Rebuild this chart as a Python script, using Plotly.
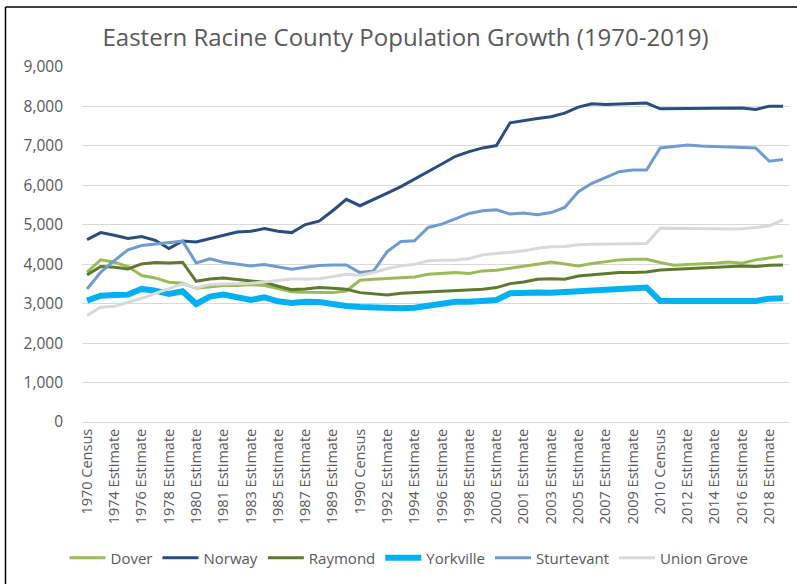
import plotly.graph_objects as go

categories = ["1970 Census", "1973 Estimate", "1974 Estimate", "1975 Estimate", "1976 Estimate",
              "1977 Estimate", "1978 Estimate", "1979 Estimate", "1980 Estimate", "1980 Census",
              "1981 Estimate", "1982 Estimate", "1983 Estimate", "1984 Estimate", "1985 Estimate",
              "1986 Estimate", "1987 Estimate", "1988 Estimate", "1989 Estimate", "1990 Estimate",
              "1990 Census", "1991 Estimate", "1992 Estimate", "1993 Estimate", "1994 Estimate",
              "1995 Estimate", "1996 Estimate", "1997 Estimate", "1998 Estimate", "1999 Estimate",
              "2000 Estimate", "2000 Census", "2001 Estimate", "2002 Estimate", "2003 Estimate",
              "2004 Estimate", "2005 Estimate", "2006 Estimate", "2007 Estimate", "2008 Estimate",
              "2009 Estimate", "2010 Estimate", "2010 Census", "2011 Estimate", "2012 Estimate",
              "2013 Estimate", "2014 Estimate", "2015 Estimate", "2016 Estimate", "2017 Estimate",
              "2018 Estimate", "2019 Estimate"]
tick_labels = categories[::2]

dover = [3800, 4110, 4051, 3941, 3712, 3653, 3542, 3517, 3390, 3432, 3458, 3458, 3483, 3458, 3373,
         3305, 3288, 3285, 3280, 3322, 3593, 3619, 3636, 3661, 3678, 3746, 3763, 3788, 3763, 3831,
         3847, 3898, 3932, 4000, 4059, 4000, 3958, 4017, 4068, 4110, 4127, 4127, 4042, 3975, 3992,
         4000, 4025, 4059, 4025, 4110, 4169, 4212]
norway = [4625, 4802, 4734, 4650, 4700, 4607, 4397, 4590, 4564, 4650, 4726, 4818, 4835, 4903, 4835,
          4802, 5005, 5090, 5356, 5644, 5483, 5636, 5805, 5966, 6153, 6347, 6542, 6737, 6856, 6949,
          7008, 7585, 7644, 7695, 7740, 7831, 7983, 8068, 8051, 8068, 8068, 8085, 7941, 7941, 7949,
          7958, 7958, 7958, 7958, 7924, 8008, 8008]
raymond = [3730, 3941, 3924, 3881, 4008, 4042, 4034, 4051, 3568, 3627, 3653, 3610, 3585, 3542, 3441,
           3356, 3373, 3410, 3390, 3364, 3280, 3254, 3220, 3263, 3280, 3297, 3305, 3322, 3347, 3364,
           3407, 3508, 3551, 3619, 3630, 3619, 3703, 3729, 3746, 3788, 3788, 3805, 3856, 3873, 3873,
           3898, 3915, 3932, 3958, 3941, 3975, 3983]
yorkville = [3076, 3203, 3220, 3229, 3373, 3330, 3246, 3314, 2992, 3178, 3229, 3178, 3093, 3161, 3059,
             3017, 3051, 3040, 2983, 2941, 2915, 2898, 2881, 2881, 2898, 2941, 3000, 3051, 3051, 3068,
             3093, 3263, 3280, 3280, 3275, 3297, 3305, 3322, 3339, 3381, 3390, 3407, 3068, 3068, 3068,
             3068, 3068, 3068, 3068, 3068, 3127, 3136]
sturtevant = [3373, 3797, 4093, 4364, 4475, 4517, 4542, 4585, 4034, 4136, 4051, 4000, 3958, 3992, 3924,
              3873, 3924, 3965, 3983, 3983, 3788, 3831, 4322, 4576, 4593, 4932, 5017, 5144, 5288, 5356,
              5381, 5271, 5297, 5254, 5310, 5441, 5839, 6051, 6203, 6347, 6390, 6390, 6949, 6983, 7025,
              7000, 6992, 6966, 6958, 6949, 6610, 6653]
union_grove = [2700, 2910, 2932, 3034, 3136, 3263, 3373, 3500, 3398, 3483, 3500, 3500, 3517, 3551, 3585,
               3627, 3627, 3630, 3686, 3746, 3720, 3788, 3890, 3958, 4000, 4085, 4102, 4110, 4144, 4237,
               4271, 4305, 4339, 4407, 4445, 4449, 4492, 4508, 4508, 4517, 4525, 4525, 4915, 4915, 4907,
               4907, 4898, 4890, 4898, 4932, 4975, 5127]

series = [
    ("Dover", dover, "#9BBB59", 3),
    ("Norway", norway, "#2B4C7E", 3),
    ("Raymond", raymond, "#5E7A2F", 3),
    ("Yorkville", yorkville, "#00B0F0", 6),
    ("Sturtevant", sturtevant, "#709BCF", 3),
    ("Union Grove", union_grove, "#D9D9D9", 3),
]

fig = go.Figure()
for name, vals, color, w in series:
    fig.add_trace(go.Scatter(x=categories, y=vals, name=name, mode="lines",
                             line=dict(color=color, width=w)))

W, H = 797, 584
L, R, T, B = 82, 8, 67, 162
pw, ph = W - L - R, H - T - B

def px_x(p):
    return (p - L) / pw

def px_y(p):
    return (H - B - p) / ph

fig.update_layout(
    width=W, height=H,
    margin=dict(l=L, r=R, t=T, b=B),
    paper_bgcolor="white", plot_bgcolor="white",
    font=dict(family="Open Sans", color="#595959"),
    title=dict(text="Eastern Racine County Population Growth (1970-2019)",
               x=405.5 / W, xanchor="center", y=1 - 38 / H, yanchor="middle",
               font=dict(size=24, color="#595959", family="Open Sans")),
    showlegend=True,
    legend=dict(orientation="h", xref="container", yref="container",
                x=409 / W, xanchor="center", y=1 - 558 / H, yanchor="middle",
                itemwidth=36,
                font=dict(size=15, color="#595959"), traceorder="normal"),
    xaxis=dict(type="category", range=[-0.37, 51.44], tickmode="array",
               tickvals=tick_labels, ticktext=tick_labels, tickangle=-90,
               showgrid=False, showline=True, linecolor="#D9D9D9", linewidth=1,
               ticks="", automargin=False, tickfont=dict(size=14.5, color="#595959")),
    yaxis=dict(range=[0, 9000], dtick=1000, tickformat=",", showgrid=True,
               gridcolor="#D9D9D9", gridwidth=1.3, zeroline=False, showline=False,
               ticks="", ticklabelstandoff=18, automargin=False,
               tickfont=dict(size=15.5, color="#595959")),
    shapes=[
        dict(type="line", xref="paper", yref="paper", x0=px_x(5.5), x1=px_x(W + 5),
             y0=px_y(7), y1=px_y(7), line=dict(color="black", width=1.5)),
        dict(type="line", xref="paper", yref="paper", x0=px_x(5.5), x1=px_x(5.5),
             y0=px_y(7), y1=px_y(H + 5), line=dict(color="black", width=1.5)),
    ],
)

fig.write_html("out.html", config={"displayModeBar": False},
               post_script="document.body.style.margin='0';document.body.style.overflow='hidden';")
